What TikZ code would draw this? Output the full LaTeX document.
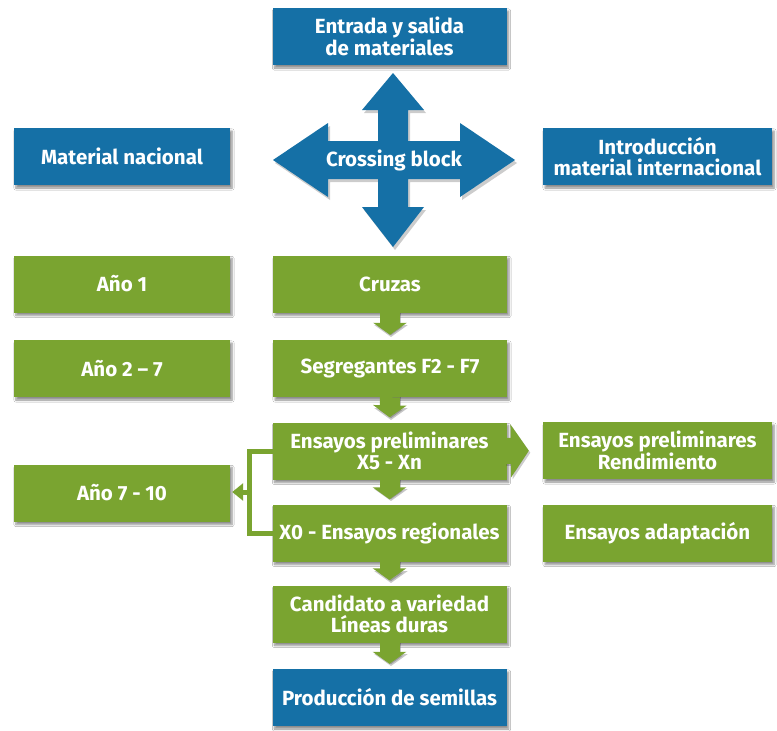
\documentclass[tikz,border=0pt]{standalone}
\usepackage{fontspec}
\setmainfont{Fira Sans}
\usetikzlibrary{arrows.meta,shadows.blur,calc}
\definecolor{cblue}{RGB}{21,112,166}
\definecolor{cgreen}{RGB}{122,164,48}
\tikzset{
  base/.style={text=white, font=\bfseries\fontsize{20.5}{21}\selectfont, align=center,
    inner sep=0pt, blur shadow={shadow xshift=2pt, shadow yshift=-3pt, shadow opacity=45, shadow blur steps=6}},
  bbox/.style={base, fill=cblue},
  gbox/.style={base, fill=cgreen},
  wide/.style={minimum width=234pt, minimum height=57pt},
  side/.style={minimum width=216pt, minimum height=57pt},
  rside/.style={minimum width=229pt, minimum height=57pt},
  garrow/.style={cgreen, line width=20pt, -{Triangle[width=33pt,length=12pt]}, shorten >=5pt},
  gshadow/.style={black, opacity=0.22, line width=20pt, -{Triangle[width=33pt,length=12pt]}, shorten >=5pt, transform canvas={xshift=1.5pt,yshift=-2pt}},
  bracketline/.style={cgreen, line width=5pt},
}
\begin{document}
\begin{tikzpicture}[x=1pt,y=-1pt]
\path[use as bounding box, fill=white] (0,0) rectangle (777,731);

% Crossing block cross
\begin{scope}[shift={(393,160)}]
\fill[black, opacity=0.2, xshift=2pt, yshift=-3pt]
  (0,-87) -- (31,-50) -- (15,-50) -- (15,-19) -- (67,-19) -- (67,-37) -- (122,0) -- (67,37) -- (67,19) -- (15,19) -- (15,47) -- (31,47) -- (0,87) -- (-31,47) -- (-15,47) -- (-15,19) -- (-65,19) -- (-65,37) -- (-120,0) -- (-65,-37) -- (-65,-19) -- (-15,-19) -- (-15,-50) -- (-31,-50) -- cycle;
\fill[cblue]
  (0,-87) -- (31,-50) -- (15,-50) -- (15,-19) -- (67,-19) -- (67,-37) -- (122,0) -- (67,37) -- (67,19) -- (15,19) -- (15,47) -- (31,47) -- (0,87) -- (-31,47) -- (-15,47) -- (-15,19) -- (-65,19) -- (-65,37) -- (-120,0) -- (-65,-37) -- (-65,-19) -- (-15,-19) -- (-15,-50) -- (-31,-50) -- cycle;
\end{scope}
\node[text=white, font=\bfseries\fontsize{20.5}{21}\selectfont] (cb) at (394,160) {Crossing block};

% Connector shadows (drawn first, boxes cover their tails)
\coordinate (bm) at (249.5,492);
\draw[gshadow] (389.5,300) -- (389.5,340);
\draw[gshadow] (389.5,385) -- (389.5,423);
\draw[gshadow] (389.5,465) -- (389.5,504);
\draw[gshadow] (389.5,550) -- (389.5,586);
\draw[gshadow] (389.5,630) -- (389.5,669);

% Blue boxes
\node[bbox, wide] (top) at (389.5,36.5) {Entrada y salida\\de materiales};
\node[bbox, side] (matnac) at (122,156.5) {Material nacional};
\node[bbox, rside] (intro) at (657.5,156.5) {Introducción\\material internacional};

% Green boxes
\node[gbox, side] (ano1) at (122,284) {Año 1};
\node[gbox, wide] (cruzas) at (390,284) {Cruzas};
\node[gbox, side] (ano27) at (122,368.5) {Año 2 – 7};
\node[gbox, wide] (segreg) at (390,368.5) {Segregantes F2 - F7};
\node[gbox, wide] (ensprel) at (389.5,451) {Ensayos preliminares\\X5 - Xn};
\node[gbox, rside] (rend) at (657.5,450.5) {Ensayos preliminares\\Rendimiento};
\node[gbox, side] (ano710) at (122,493) {Año 7 - 10};
\node[gbox, wide] (x0) at (389.5,533) {X0 - Ensayos regionales};
\node[gbox, rside] (adapt) at (657.5,533) {Ensayos adaptación};
\node[gbox, wide] (cand) at (389.5,614) {Candidato a variedad\\Líneas duras};
\node[bbox, wide] (prod) at (389.5,697.5) {Producción de semillas};

% Down arrows
\draw[garrow] (cruzas.south) -- (segreg.north);
\draw[garrow] (segreg.south) -- (ensprel.north);
\draw[garrow] (ensprel.south) -- (x0.north);
\draw[garrow] (x0.south) -- (cand.north);
\draw[garrow] (cand.south) -- (prod.north);

% Right arrow
\draw[black, opacity=0.2, line width=26pt, -{Triangle[width=52pt,length=18pt]}, shorten >=14pt, transform canvas={xshift=1.5pt,yshift=-2pt}] ([xshift=-2pt]ensprel.east) -- (rend.west);
\draw[cgreen, line width=26pt, -{Triangle[width=52pt,length=18pt]}, shorten >=14pt] ([xshift=-2pt]ensprel.east) -- (rend.west);

% Bracket to Año 7 - 10
\draw[bracketline] ([xshift=1pt]ensprel.west) -| (bm) |- ([xshift=1pt]x0.west);
\draw[cgreen, line width=5pt, -{Triangle[width=17pt,length=11pt]}, shorten >=2pt] (bm) -- (bm -| ano710.east);
\end{tikzpicture}
\end{document}
